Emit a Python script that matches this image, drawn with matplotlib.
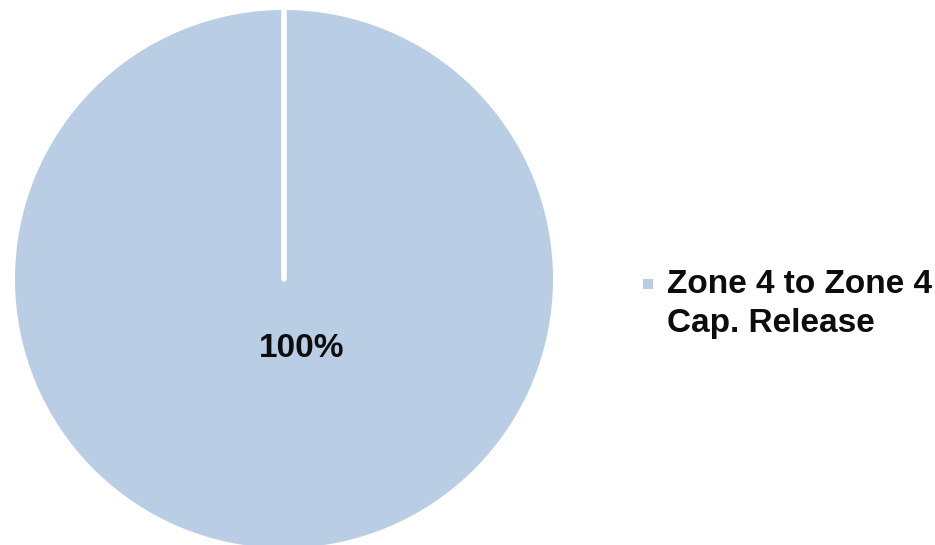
import numpy as np
import matplotlib.pyplot as plt
from matplotlib.patches import Rectangle

# data
labels = ['Zone 4 to Zone 4\nCap. Release']
values = [100]
colors = ['#B9CDE5']
start = 90

W, H = 935, 545
fig = plt.figure(figsize=(W / 100, H / 100), dpi=100)

# pie: center ~ (284, 279) px, radius ~ 269 px
cx, cy, r = 284, 279, 269
ax = fig.add_axes([(cx - r) / W, (H - cy - r) / H, 2 * r / W, 2 * r / H])
wedges, _ = ax.pie(values, colors=colors, startangle=start, counterclock=False,
                   radius=1, wedgeprops=dict(linewidth=0))
ax.set_xlim(-1, 1)
ax.set_ylim(-1, 1)
ax.set_aspect('equal')
ax.axis('off')

# white slice separator (a single slice still shows its start edge)
ang = np.deg2rad(start)
ax.plot([0, 1.02 * np.cos(ang)], [0, 1.02 * np.sin(ang)], color='white', lw=4,
        solid_capstyle='round')

total = sum(values)
for v in values:
    ax.text(0.067, -0.257, '{:.0f}%'.format(100 * v / total), ha='center', va='center',
            fontsize=24, fontweight='bold', family='Liberation Sans', color='#0d0d0d')

# legend (marker aligned with first line, like the original)
fig.patches.append(Rectangle((643 / W, 1 - 289 / H), 10 / W, 10 / H,
                             transform=fig.transFigure, facecolor=colors[0],
                             edgecolor='none'))
fig.text(667 / W, 1 - 304 / H, labels[0], ha='left', va='center', fontsize=24,
         fontweight='bold', family='Liberation Sans', color='#0d0d0d', linespacing=1.3)

fig.savefig('out.png', dpi=100)
